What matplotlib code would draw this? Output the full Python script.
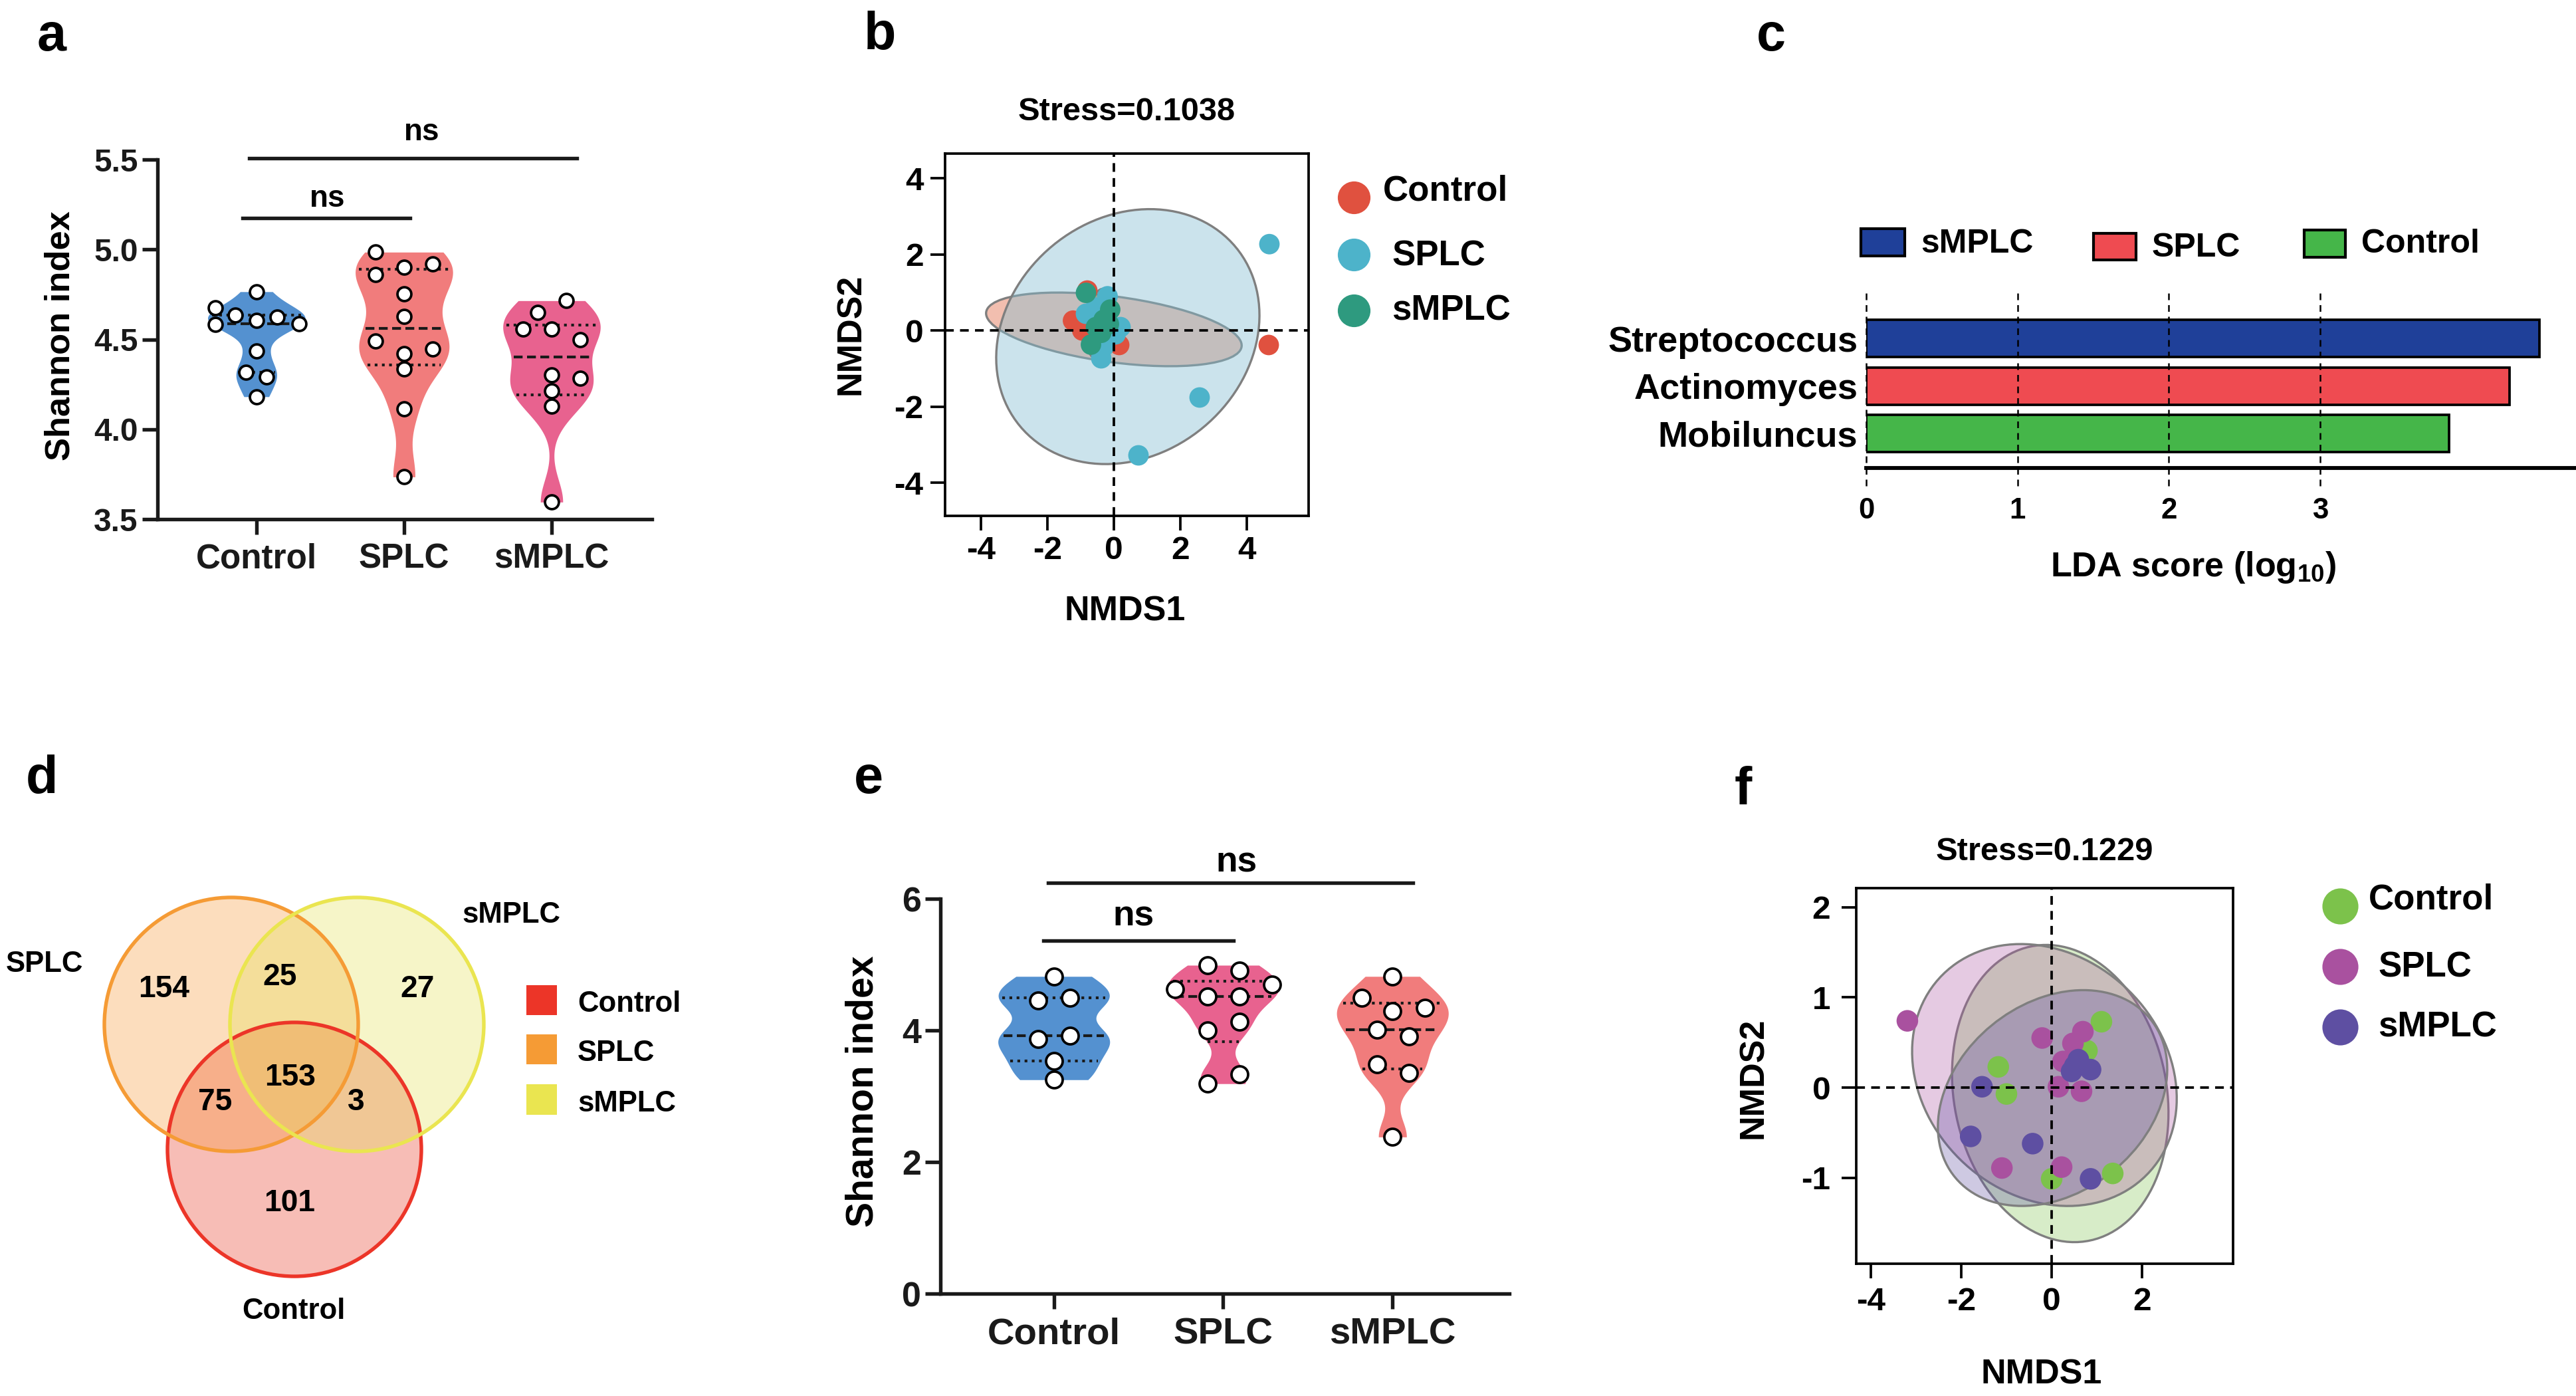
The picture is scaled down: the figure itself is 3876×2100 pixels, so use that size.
import numpy as np
import matplotlib
matplotlib.use('Agg')
import matplotlib.pyplot as plt
from matplotlib.patches import Ellipse, Circle, Rectangle
from matplotlib.lines import Line2D
from matplotlib.colors import to_rgba
from matplotlib import font_manager as fm

# ======================= DATA =======================
groups = ['Control', 'SPLC', 'sMPLC']

# panel a: Shannon index (violin + points); jitter = horizontal offsets
a_control = [4.677, 4.582, 4.634, 4.765, 4.606, 4.622, 4.587, 4.435, 4.318, 4.290, 4.181]
a_control_jit = [-0.28, -0.28, -0.145, 0.0, 0.0, 0.14, 0.29, 0.0, -0.07, 0.07, 0.0]
a_splc = [4.985, 4.859, 4.902, 4.921, 4.753, 4.629, 4.492, 4.420, 4.335, 4.447, 4.114, 3.735]
a_splc_jit = [-0.195, -0.195, 0.0, 0.195, 0.0, 0.0, -0.195, 0.0, 0.0, 0.195, 0.0, 0.0]
a_smplc = [4.715, 4.648, 4.556, 4.556, 4.499, 4.302, 4.285, 4.214, 4.129, 3.595]
a_smplc_jit = [0.10, -0.095, -0.195, 0.0, 0.195, 0.0, 0.195, 0.0, 0.0, 0.0]
a_yticks = [3.5, 4.0, 4.5, 5.0, 5.5]

# panel b: NMDS
b_stress = 'Stress=0.1038'
b_control_x = [-0.80, -1.23, -0.95, 0.16, 4.66, -0.55]
b_control_y = [1.05, 0.26, 0.00, -0.38, -0.38, -0.20]
b_splc_x = [4.68, 2.58, 0.74, -0.19, -0.84, 0.20, -0.38, -0.30, -0.55, 0.05]
b_splc_y = [2.27, -1.76, -3.28, 0.90, 0.44, 0.09, -0.73, -0.42, 0.60, -0.10]
b_smplc_x = [-0.84, -0.11, -0.69, -0.38, -0.31, -0.54, -0.15]
b_smplc_y = [0.99, 0.55, -0.37, -0.06, 0.28, 0.09, 0.17]
# confidence ellipses (centre x, centre y, full width, full height, angle deg)
b_ell_control = [0.00, 0.03, 7.74, 1.73, -6.6]
b_ell_splc = [0.42, -0.16, 8.15, 6.42, 22.4]
b_ell_smplc = [-0.42, 0.18, 0.85, 1.85, -8.0]
nmds_ticks_b = [-4, -2, 0, 2, 4]

# panel c: LEfSe
lda_taxa = ['Streptococcus', 'Actinomyces', 'Mobiluncus']
lda_scores = [4.45, 4.25, 3.85]
lda_group = ['sMPLC', 'SPLC', 'Control']
lda_ticks = [0, 1, 2, 3]

# panel d: Venn counts
venn_regions = ['SPLC', 'SPLC_sMPLC', 'sMPLC', 'all', 'SPLC_Control', 'sMPLC_Control', 'Control']
venn_counts = [154, 25, 27, 153, 75, 3, 101]

# panel e: Shannon index
e_control = [4.82, 4.45, 4.50, 3.87, 3.92, 3.54, 3.25]
e_control_jit = [0.0, -0.094, 0.094, -0.094, 0.094, 0.0, 0.0]
e_splc = [4.99, 4.91, 4.63, 4.52, 4.52, 4.70, 4.13, 4.00, 3.33, 3.19]
e_splc_jit = [-0.091, 0.097, -0.285, -0.091, 0.097, 0.29, 0.097, -0.091, 0.097, -0.091]
e_smplc = [4.82, 4.49, 4.29, 4.34, 4.01, 3.91, 3.48, 3.35, 2.38]
e_smplc_jit = [0.0, -0.18, 0.0, 0.19, -0.09, 0.097, -0.09, 0.097, 0.0]
e_yticks = [0, 2, 4, 6]

# panel f: NMDS
f_stress = 'Stress=0.1229'
f_control_x = [1.10, -1.18, -1.00, 0.78, 0.00, 1.35]
f_control_y = [0.73, 0.23, -0.07, 0.41, -1.01, -0.95]
f_splc_x = [-3.19, -0.21, 0.69, 0.47, 0.25, 0.15, 0.66, -1.10, 0.22]
f_splc_y = [0.74, 0.55, 0.62, 0.49, 0.29, 0.01, -0.04, -0.89, -0.88]
f_smplc_x = [-1.54, -1.79, -0.42, 0.86, 0.59, 0.86, 0.44, 0.51]
f_smplc_y = [0.01, -0.54, -0.62, -1.01, 0.31, 0.20, 0.18, 0.24]
f_ell_control = [0.19, -0.065, 4.82, 3.24, -9.4]
f_ell_splc = [-0.16, 0.14, 5.88, 2.84, -6.6]
f_ell_smplc = [0.02, -0.115, 5.12, 2.28, 9.0]
nmds_xticks_f = [-4, -2, 0, 2]
nmds_yticks_f = [-1, 0, 1, 2]

# ======================= STYLE =======================
W, H, DPI = 3876, 2100, 300
avail = {f.name for f in fm.fontManager.ttflist}
BASE = 'Liberation Sans' if 'Liberation Sans' in avail else 'DejaVu Sans'
HAS_NARROW = 'Liberation Sans Narrow' in avail
NARROW = 'Liberation Sans Narrow' if HAS_NARROW else BASE
NS = 1.0 if HAS_NARROW else 0.9

plt.rcParams.update({
    'font.family': [BASE, 'DejaVu Sans'],
    'font.weight': 'bold',
    'axes.labelweight': 'bold',
    'axes.titleweight': 'bold',
    'mathtext.fontset': 'custom',
    'mathtext.rm': BASE + ':bold',
    'mathtext.it': BASE + ':bold',
    'mathtext.bf': BASE + ':bold',
})


def box(l, t, r, b):
    return [l / W, 1 - b / H, (r - l) / W, (b - t) / H]


def fx(x):
    return x / W


def fy(y):
    return 1 - y / H


C_BLUE = '#5491D0'
C_SALMON = '#F17C7C'
C_PINK = '#E8628F'

fig = plt.figure(figsize=(W / DPI, H / DPI), dpi=DPI, facecolor='white')


def draw_violins(ax, datasets, jitters, colors, ms):
    for i, (vals, jit, col) in enumerate(zip(datasets, jitters, colors)):
        v = np.asarray(vals, float)
        h = 0.6 * v.std(ddof=1) * len(v) ** (-0.2)
        ys = np.linspace(v.min(), v.max(), 400)
        dens = np.exp(-0.5 * ((ys[:, None] - v[None, :]) / h) ** 2).sum(1)
        half = dens / dens.max() * 0.33
        ax.fill_betweenx(ys, i - half, i + half, color=col, lw=0, zorder=1)
        q1, med, q3 = np.percentile(v, [25, 50, 75], method='weibull')
        for q, ls in ((q1, (0, (1, 1.6))), (med, (0, (3.2, 1.6))), (q3, (0, (1, 1.6)))):
            w = np.interp(q, ys, half) * 0.93
            ax.plot([i - w, i + w], [q, q], color='#1a1a1a', ls=ls, lw=1.0, zorder=2)
        ax.plot(i + np.asarray(jit), v, 'o', ms=ms, mfc='white', mec='black', mew=0.9,
                ls='none', zorder=3, clip_on=False)


def style_prism(ax, lw=1.3):
    for s in ('top', 'right'):
        ax.spines[s].set_visible(False)
    for s in ('left', 'bottom'):
        ax.spines[s].set_linewidth(lw)
        ax.spines[s].set_color('#1a1a1a')
    ax.tick_params(direction='out', length=5.5, width=lw, colors='#1a1a1a')


# ---------------- panel a ----------------
ax = fig.add_axes(box(237, 240, 981, 781))
draw_violins(ax, [a_control, a_splc, a_smplc], [a_control_jit, a_splc_jit, a_smplc_jit],
             [C_BLUE, C_SALMON, C_PINK], ms=5.0)
ax.set_xlim(-0.67, 2.68)
ax.set_ylim(3.5, 5.5)
style_prism(ax)
ax.set_yticks(a_yticks)
ax.set_yticklabels(['%.1f' % t for t in a_yticks], fontsize=11.5)
ax.set_xticks(range(3))
ax.set_xticklabels(groups, fontsize=12.3)
ax.tick_params(axis='y', pad=1.5)
ax.tick_params(axis='x', pad=3)
ax.set_ylabel('Shannon index', fontsize=12.6)
ax.yaxis.label.set_va('center')
ax.yaxis.set_label_coords((91 - 237) / 744, (781 - 505) / 541)
ax.plot([-0.095, 1.04], [5.175, 5.175], color='#1a1a1a', lw=1.3, clip_on=False)
ax.text(0.48, 5.237, 'ns', ha='center', va='baseline', fontsize=11)
ax.plot([-0.05, 2.17], [5.507, 5.507], color='#1a1a1a', lw=1.3, clip_on=False)
ax.text(1.12, 5.607, 'ns', ha='center', va='baseline', fontsize=11)

# ---------------- panel e ----------------
ax = fig.add_axes(box(1415, 1352, 2271, 1946))
draw_violins(ax, [e_control, e_splc, e_smplc], [e_control_jit, e_splc_jit, e_smplc_jit],
             [C_BLUE, C_PINK, C_SALMON], ms=6.0)
ax.set_xlim(-0.67, 2.69)
ax.set_ylim(0, 6)
style_prism(ax)
ax.set_yticks(e_yticks)
ax.set_yticklabels([str(t) for t in e_yticks], fontsize=12.5)
ax.set_xticks(range(3))
ax.set_xticklabels(groups, fontsize=13.5)
ax.tick_params(axis='y', pad=1.5)
ax.tick_params(axis='x', pad=3)
ax.set_ylabel('Shannon index', fontsize=13.7)
ax.yaxis.label.set_va('center')
ax.yaxis.set_label_coords((1299 - 1415) / 856, (1946 - 1642) / 594)
ax.plot([-0.06, 1.06], [5.36, 5.36], color='#1a1a1a', lw=1.3, clip_on=False)
ax.text(0.47, 5.59, 'ns', ha='center', va='baseline', fontsize=12.8)
ax.plot([-0.035, 2.12], [6.24, 6.24], color='#1a1a1a', lw=1.3, clip_on=False)
ax.text(1.08, 6.41, 'ns', ha='center', va='baseline', fontsize=12.8)


# ---------------- NMDS panels ----------------
def nmds_panel(ax, pts, ells, ell_cols, ell_alpha, colors, pt_size, xlim, ylim, xticks, yticks,
               title, title_pad, xlabel_xy, ylabel_xy, lab_pad_x, lab_pad_y):
    for (cx, cy, w, h, ang), col in zip(ells, ell_cols):
        ax.add_patch(Ellipse((cx, cy), w, h, angle=ang, facecolor=to_rgba(col, ell_alpha),
                             edgecolor='#7f7f7f', lw=0.8, zorder=2))
    for (xs, ys), col in zip(pts, colors):
        ax.scatter(xs, ys, s=pt_size ** 2, color=col, edgecolors='none', zorder=3)
    ax.axhline(0, color='black', ls=(0, (3.5, 2.5)), lw=0.9, zorder=5)
    ax.axvline(0, color='black', ls=(0, (3.5, 2.5)), lw=0.9, zorder=5)
    ax.set_xlim(*xlim)
    ax.set_ylim(*ylim)
    for s in ax.spines.values():
        s.set_linewidth(0.9)
    ax.tick_params(direction='out', length=5.3, width=0.9)
    ax.set_xticks(xticks)
    ax.set_xticklabels([str(t) for t in xticks], fontsize=13.2 * NS, family=NARROW)
    ax.set_yticks(yticks)
    ax.set_yticklabels([str(t) for t in yticks], fontsize=13.2 * NS, family=NARROW)
    ax.tick_params(axis='x', pad=lab_pad_x)
    ax.tick_params(axis='y', pad=lab_pad_y)
    ax.set_title(title, fontsize=13.5 * 0.87 if not HAS_NARROW else 13.5, family=NARROW, pad=title_pad)
    ax.set_xlabel('NMDS1', fontsize=12.5)
    ax.xaxis.label.set_va('center')
    ax.xaxis.set_label_coords(*xlabel_xy)
    ax.set_ylabel('NMDS2', fontsize=12.5)
    ax.yaxis.label.set_va('center')
    ax.yaxis.set_label_coords(*ylabel_xy)


# panel b
b_cols = ['#E0513F', '#4DB3CA', '#2E9A7F']
b_ell_cols = ['#E06441', '#83BED2', '#3C8F7A']
ax = fig.add_axes(box(1422, 231, 1969, 776))
nmds_panel(ax,
           [(b_control_x, b_control_y), (b_splc_x, b_splc_y), (b_smplc_x, b_smplc_y)],
           [b_ell_control, b_ell_splc, b_ell_smplc], b_ell_cols, 0.42,
           b_cols, 7.4, (-5.08, 5.86), (-4.87, 4.65), nmds_ticks_b, nmds_ticks_b,
           b_stress, 12, ((1693 - 1422) / 547, (776 - 920) / 545),
           ((1281 - 1422) / 547, (776 - 503) / 545), 2.0, 2.5)
for name, col, my, tx, ty in zip(groups, b_cols, [297, 383, 467], [2081, 2094, 2094], [288, 385, 468]):
    fig.add_artist(Line2D([fx(2037)], [fy(my)], marker='o', ms=10.8, color=col, ls='none',
                          transform=fig.transFigure))
    fig.text(fx(tx), fy(ty), name, ha='left', va='center', fontsize=12.7)

# panel f
f_cols = ['#7CC24B', '#A9519F', '#5E4FA2']
ax = fig.add_axes(box(2793, 1336, 3360, 1901))
nmds_panel(ax,
           [(f_control_x, f_control_y), (f_splc_x, f_splc_y), (f_smplc_x, f_smplc_y)],
           [f_ell_control, f_ell_splc, f_ell_smplc], f_cols, 0.30,
           f_cols, 7.8, (-4.32, 4.01), (-1.95, 2.21), nmds_xticks_f, nmds_yticks_f,
           f_stress, 10.0, ((3072 - 2793) / 567, (1901 - 2068) / 565),
           ((2639 - 2793) / 567, (1901 - 1622) / 565), 3.0, 4.0)
for name, col, my, tx, ty in zip(groups, f_cols, [1363, 1454, 1545], [3564, 3578, 3578], [1353, 1456, 1545]):
    fig.add_artist(Line2D([fx(3521)], [fy(my)], marker='o', ms=12, color=col, ls='none',
                          transform=fig.transFigure))
    fig.text(fx(tx), fy(ty), name, ha='left', va='center', fontsize=12.7)

# ---------------- panel c ----------------
c_cols = {'sMPLC': '#1F4099', 'SPLC': '#EF4B51', 'Control': '#45B649'}
ax = fig.add_axes(box(2808, 441, 3876, 704))
ax.barh(range(len(lda_taxa)), lda_scores, height=0.78,
        color=[c_cols[g] for g in lda_group], edgecolor='black', lw=0.9, zorder=3)
ax.set_xlim(0, 4.69)
ax.set_ylim(2.72, -0.95)
for s in ('top', 'right', 'left'):
    ax.spines[s].set_visible(False)
ax.spines['bottom'].set_linewidth(1.4)
ax.set_yticks(range(len(lda_taxa)))
ax.set_yticklabels(lda_taxa, fontsize=13)
ax.tick_params(axis='y', length=0, pad=3)
ax.set_xticks(lda_ticks)
ax.set_xticklabels([str(t) for t in lda_ticks], fontsize=10.5)
ax.tick_params(axis='x', length=0, pad=10.5)
ax.vlines(lda_ticks, -0.95, 3.14, colors='black', linestyles=(0, (4, 3)), lw=0.6,
          clip_on=False, zorder=4)
ax.set_xlabel('LDA score (log$_{10}$)', fontsize=12.5)
ax.xaxis.label.set_va('center')
ax.xaxis.set_label_coords((3300 - 2808) / 1068, (704 - 853) / 263)
for g, (l, t, r, b), tx, ty in zip(['sMPLC', 'SPLC', 'Control'],
                                   [(2800, 344, 2866, 385), (3150, 351, 3214, 391), (3467, 346, 3529, 387)],
                                   [2890, 3238, 3553], [367, 373, 367]):
    fig.add_artist(Rectangle((fx(l), fy(b)), (r - l) / W, (b - t) / H, facecolor=c_cols[g],
                             edgecolor='black', lw=1.0, transform=fig.transFigure))
    fig.text(fx(tx), fy(ty), g, ha='left', va='center', fontsize=12)

# ---------------- panel d (Venn) ----------------
ax = fig.add_axes(box(0, 1250, 1000, 2050))
ax.set_xlim(0, 1000)
ax.set_ylim(2050, 1250)
ax.axis('off')
venn_sets = [('Control', (443, 1729), '#E8321E', '#EC3528', 0.32),
             ('SPLC', (348, 1541), '#F89126', '#F59B35', 0.30),
             ('sMPLC', (537, 1541), '#E3E14A', '#EAE550', 0.30)]
for name, c, fill, edge, al in venn_sets:
    ax.add_patch(Circle(c, 191, facecolor=to_rgba(fill, al), edgecolor='none', zorder=1))
for name, c, fill, edge, al in venn_sets:
    ax.add_patch(Circle(c, 191, facecolor='none', edgecolor=edge, lw=1.3, zorder=2))
venn_pos = {'SPLC': (247, 1488), 'SPLC_sMPLC': (421, 1470), 'sMPLC': (628, 1488),
            'all': (437, 1621), 'SPLC_Control': (324, 1658), 'sMPLC_Control': (536, 1658),
            'Control': (436, 1810)}
for reg, cnt in zip(venn_regions, venn_counts):
    x, y = venn_pos[reg]
    ax.text(x, y, str(cnt), ha='center', va='center', fontsize=12.3 * NS, family=NARROW, zorder=3)
for name, (x, y) in zip(['SPLC', 'sMPLC', 'Control'], [(67, 1451), (769, 1377), (442, 1972)]):
    ax.text(x, y, name, ha='center', va='center', fontsize=10.5)
for (name, c, fill, edge, al), (t, b), ty in zip(venn_sets, [(1482, 1527), (1556, 1601), (1631, 1677)],
                                                [1510, 1584, 1660]):
    fig.add_artist(Rectangle((fx(792), fy(b)), 46 / W, (b - t) / H, facecolor=edge,
                             edgecolor='none', transform=fig.transFigure))
    fig.text(fx(869), fy(ty), name, ha='left', va='center', fontsize=10.5)

# ---------------- panel letters ----------------
for letter, x, y in [('a', 56, 76), ('b', 1300, 74), ('c', 2643, 76),
                     ('d', 39, 1193), ('e', 1285, 1193), ('f', 2610, 1209)]:
    fig.text(fx(x), fy(y), letter, ha='left', va='baseline', fontsize=19)

fig.savefig('out.png', dpi=DPI, facecolor='white')
